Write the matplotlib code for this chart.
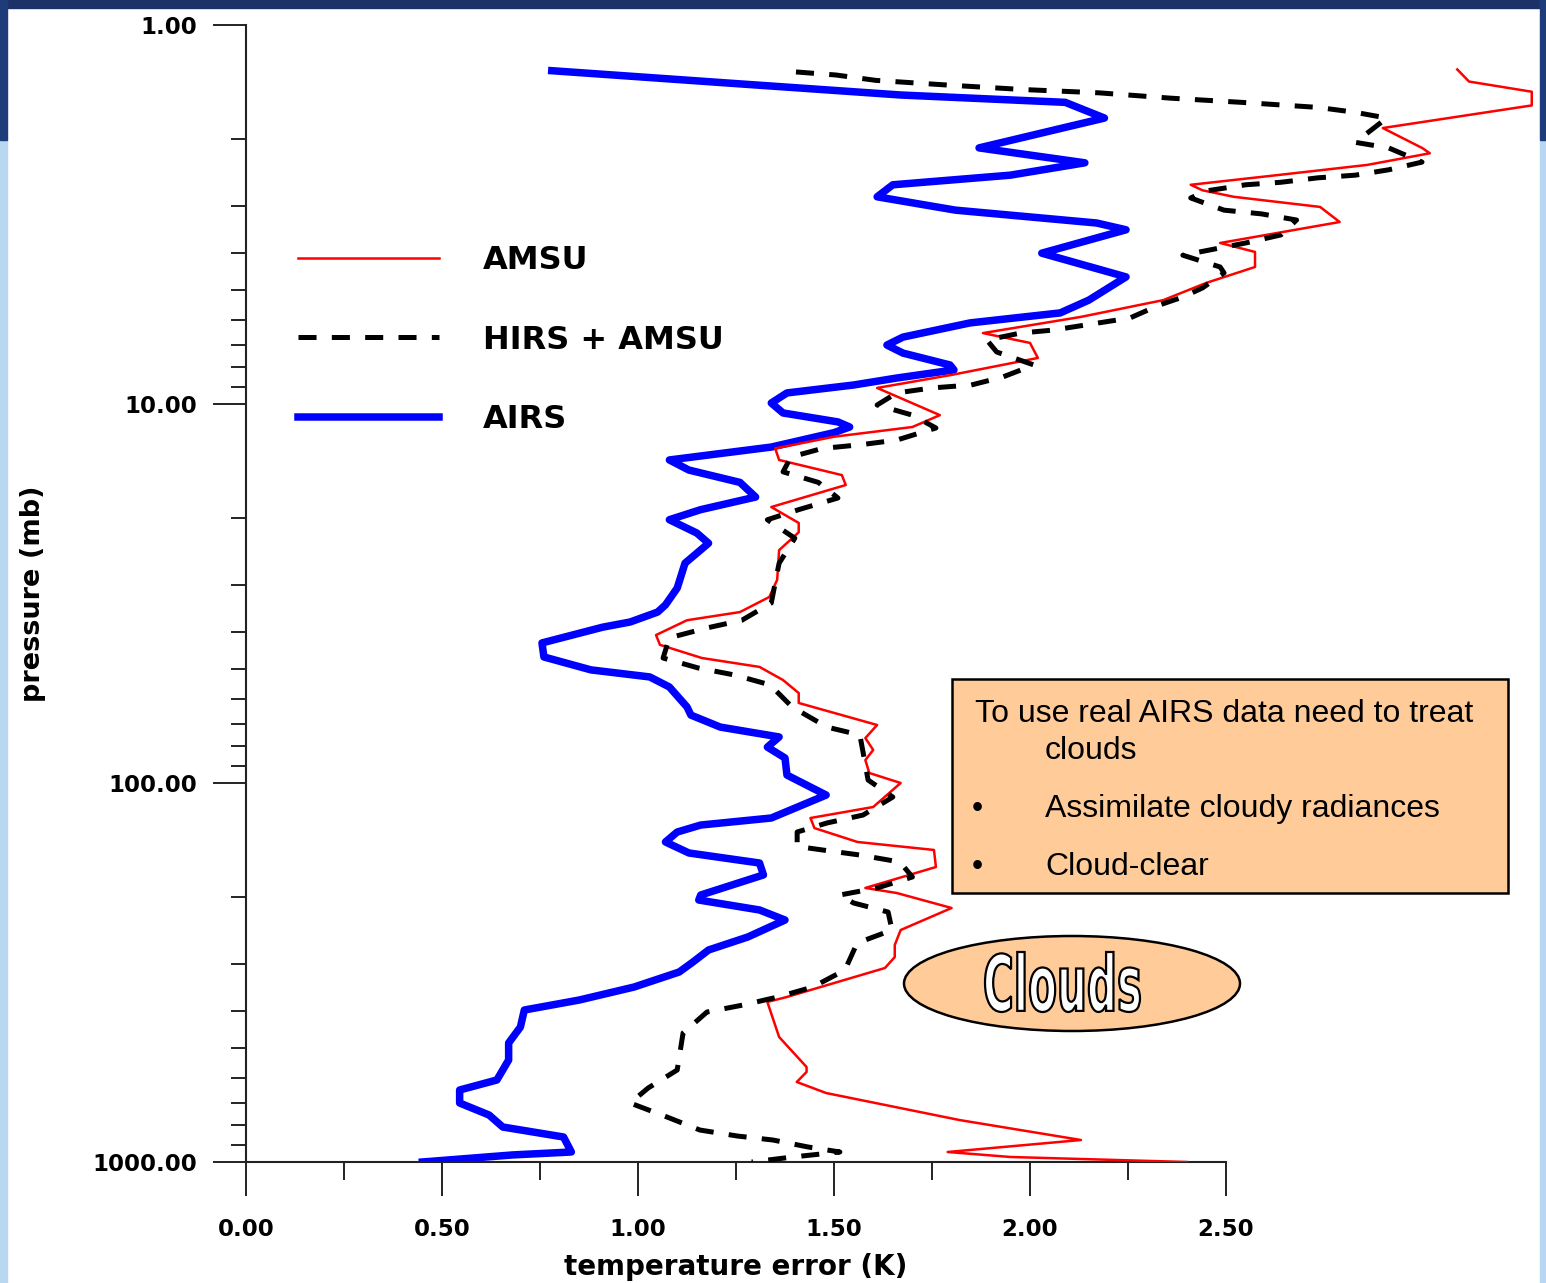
import numpy as np
import matplotlib
matplotlib.use("Agg")
import matplotlib.pyplot as plt
from matplotlib.patches import Rectangle, Ellipse, PathPatch
from matplotlib.textpath import TextPath
from matplotlib.font_manager import FontProperties
from matplotlib.transforms import Affine2D
from matplotlib.ticker import FixedLocator, FormatStrFormatter, LogLocator, NullFormatter

# ===============================
# Data (temperature error in K vs pressure in mb)
# ===============================
airs_err = [0.78, 1.26, 1.67, 2.09, 2.19, 1.87, 2.14, 1.95, 1.65, 1.61, 1.81, 2.17, 2.245,
            2.03, 2.245, 2.15, 2.077, 1.847, 1.676, 1.635, 1.676, 1.796, 1.806, 1.66, 1.55,
            1.38, 1.34, 1.37, 1.51, 1.54, 1.50, 1.34, 1.08, 1.13, 1.26, 1.30, 1.16, 1.08,
            1.15, 1.18, 1.12, 1.10, 1.07, 1.05, 0.98, 0.91, 0.755, 0.76, 0.88, 1.03, 1.08,
            1.125, 1.135, 1.21, 1.36, 1.33, 1.375, 1.38, 1.48, 1.34, 1.16, 1.10, 1.07, 1.13,
            1.31, 1.32, 1.16, 1.155, 1.31, 1.375, 1.28, 1.18, 1.14, 1.105, 0.99, 0.85, 0.71,
            0.70, 0.67, 0.67, 0.64, 0.545, 0.545, 0.62, 0.655, 0.81, 0.83, 0.68, 0.45]
airs_p = [1.32, 1.43, 1.53, 1.60, 1.76, 2.11, 2.31, 2.49, 2.64, 2.84, 3.08, 3.33, 3.47,
          4.0, 4.62, 5.32, 5.75, 6.11, 6.66, 6.99, 7.34, 7.89, 8.13, 8.54, 8.91,
          9.35, 9.94, 10.56, 11.15, 11.5, 11.9, 12.99, 14.05, 14.94, 16.1, 17.6, 19.0, 20.2,
          21.9, 23.3, 26.3, 30.6, 33.9, 35.4, 37.6, 38.8, 42.7, 46.5, 50.3, 52.5, 55.8,
          63.0, 66.2, 71.2, 75.6, 80.4, 85.9, 95.3, 107.6, 123.7, 129.1, 134.7, 143.1, 153.0,
          162.6, 174.8, 197.5, 203.6, 216.3, 229.9, 254.9, 275.8, 296.8, 315.3, 345.4, 373.8, 397.2,
          440.5, 485.3, 538.1, 607.6, 645.7, 698.8, 751.6, 808.5, 859.1, 941, 958, 1000]

amsu_err = [3.09, 3.12, 3.28, 3.28, 2.90, 3.00, 3.02, 2.86, 2.63, 2.41, 2.44, 2.52, 2.74,
            2.79, 2.485, 2.574, 2.574, 2.45, 2.34, 2.13, 1.88, 2.00, 2.02, 1.80, 1.61, 1.77,
            1.70, 1.50, 1.35, 1.36, 1.52, 1.53, 1.34, 1.41, 1.41, 1.36, 1.355, 1.335, 1.26,
            1.125, 1.046, 1.056, 1.163, 1.31, 1.37, 1.41, 1.41, 1.61, 1.58, 1.60, 1.58, 1.59,
            1.67, 1.60, 1.44, 1.45, 1.56, 1.755, 1.76, 1.58, 1.66, 1.80, 1.67, 1.655, 1.655,
            1.63, 1.38, 1.33, 1.36, 1.43, 1.43, 1.405, 1.48, 1.82, 2.13, 1.79, 1.95, 2.40]
amsu_p = [1.31, 1.41, 1.50, 1.63, 1.87, 2.11, 2.18, 2.34, 2.49, 2.64, 2.73, 2.84, 3.02,
          3.31, 3.76, 3.97, 4.35, 4.79, 5.32, 5.89, 6.50, 6.90, 7.56, 8.38, 9.07, 10.7,
          11.5, 12.2, 13.1, 14.05, 15.4, 16.36, 18.7, 20.6, 21.8, 24.3, 29.1, 32.3, 35.4,
          37.2, 40.7, 43.2, 46.8, 49.4, 53.5, 57.9, 61.5, 70.3, 76.1, 81.8, 87.0, 94.1,
          100, 115.7, 123.7, 131.5, 143.1, 150.2, 166.6, 189.2, 195.1, 213.7, 244.3, 267.6, 287.9,
          307.7, 366.9, 378.2, 468, 561.5, 578.8, 615, 657.7, 774.9, 874.9, 941, 970, 1000]

hirs_err = [1.403, 1.505, 1.607, 1.788, 1.982, 2.176, 2.36, 2.54, 2.735, 2.83, 2.91, 2.83,
            2.915, 3.00, 2.915, 2.83, 2.735, 2.64, 2.55, 2.45, 2.41, 2.495, 2.59, 2.68, 2.64,
            2.55, 2.46, 2.39, 2.485, 2.495, 2.44, 2.39, 2.33, 2.255, 2.06, 1.975, 1.89, 1.915,
            2.01, 1.93, 1.85, 1.75, 1.66, 1.61, 1.70, 1.76, 1.66, 1.57, 1.47, 1.39, 1.37, 1.46,
            1.51, 1.41, 1.33, 1.40, 1.36, 1.355, 1.34, 1.265, 1.175, 1.08, 1.064, 1.153, 1.247,
            1.337, 1.393, 1.482, 1.566, 1.574, 1.587, 1.65, 1.574, 1.482, 1.406, 1.406, 1.47,
            1.566, 1.668, 1.70, 1.61, 1.515, 1.55, 1.638, 1.648, 1.559, 1.528, 1.446, 1.357,
            1.268, 1.176, 1.115, 1.10, 1.026, 0.98, 1.074, 1.158, 1.253, 1.344, 1.434, 1.515,
            1.395, 1.29]
hirs_p = [1.33, 1.355, 1.40, 1.44, 1.48, 1.51, 1.56, 1.60, 1.65, 1.70, 1.76, 2.04,
          2.11, 2.30, 2.41, 2.49, 2.53, 2.60, 2.64, 2.74, 2.86, 3.08, 3.15, 3.27, 3.58,
          3.76, 3.92, 4.05, 4.35, 4.51, 4.94, 5.22, 5.48, 5.93, 6.38, 6.50, 6.78, 7.29,
          7.89, 8.49, 8.91, 9.07, 9.35, 10.06, 10.7, 11.57, 12.45, 12.8, 13.1, 13.8, 15.1, 16.1,
          17.7, 19.0, 20.2, 22.6, 26.3, 27.9, 33.5, 37.2, 39.0, 41.4, 46.8, 49.7, 51.9,
          55.1, 63.0, 71.2, 74.7, 82.8, 98.2, 108.9, 121.5, 127.5, 134.7, 147.0, 150.2,
          154.9, 161.6, 177.0, 189.2, 197.5, 207.3, 219.0, 244.3, 264.4, 311.4, 345.4, 366.9,
          385.3, 402.0, 456.6, 571.8, 637.8, 698.8, 760.9, 823.5, 853.9, 874.9, 912.9, 941,
          970, 1000]

x_ticks = [0.0, 0.5, 1.0, 1.5, 2.0, 2.5]
x_minor = [0.25, 0.75, 1.25, 1.75, 2.25]
y_ticks = [1, 10, 100, 1000]

legend_labels = ["AMSU", "HIRS + AMSU", "AIRS"]
box_lines = ["To use real AIRS data need to treat", "clouds",
             "Assimilate cloudy radiances", "Cloud-clear"]

# ===============================
# Figure
# ===============================
W, H = 1546, 1283
plt.rcParams['lines.scale_dashes'] = False
fig = plt.figure(figsize=(W / 100, H / 100), dpi=100, facecolor="white")

# background strips (slide picture around the chart)
fig.patches.append(Rectangle((0, 1 - 8 / H), 1, 8 / H, transform=fig.transFigure,
                             color="#1d3169", zorder=0))
for x0 in (0, 1540 / W):
    fig.patches.append(Rectangle((x0, 0), 7 / W, 1 - 140 / H, transform=fig.transFigure,
                                 color="#b9d6f2", zorder=0))
    fig.patches.append(Rectangle((x0, 1 - 140 / H), 7 / W, 140 / H, transform=fig.transFigure,
                                 color="#1f3c7a", zorder=0))

ax = fig.add_axes([246 / W, 121 / H, 1293.6 / W, 1137 / H])
ax.set_facecolor("none")

ax.plot(airs_err, airs_p, color="#0000ff", lw=5.4, label=legend_labels[2], zorder=2)
ax.plot(amsu_err, amsu_p, color="#ff0000", lw=1.8, label=legend_labels[0], zorder=3)
ax.plot(hirs_err, hirs_p, color="black", lw=3.6, dashes=(13, 11), label=legend_labels[1], zorder=4)

ax.set_yscale("log")
ax.set_ylim(1000, 1)
ax.set_xlim(0, 3.30)

ax.spines["top"].set_visible(False)
ax.spines["right"].set_visible(False)
ax.spines["bottom"].set_bounds(0, 2.5)
for s in ("left", "bottom"):
    ax.spines[s].set_linewidth(1.5)
    ax.spines[s].set_color("#222222")

ax.xaxis.set_major_locator(FixedLocator(x_ticks))
ax.xaxis.set_minor_locator(FixedLocator(x_minor))
ax.xaxis.set_major_formatter(FormatStrFormatter("%.2f"))
ax.yaxis.set_major_locator(FixedLocator(y_ticks))
ax.yaxis.set_minor_locator(LogLocator(base=10, subs=np.arange(2, 10)))
ax.yaxis.set_major_formatter(FormatStrFormatter("%.2f"))
ax.yaxis.set_minor_formatter(NullFormatter())

ax.tick_params(axis="x", which="major", direction="out", length=24.5, width=1.4,
               pad=16, labelsize=16.5, color="#222222")
ax.tick_params(axis="x", which="minor", direction="out", length=13, width=1.4, color="#222222")
ax.tick_params(axis="y", which="major", direction="out", length=23.5, width=1.4,
               pad=12, labelsize=16.5, color="#222222")
ax.tick_params(axis="y", which="minor", direction="out", length=11, width=1.4, color="#222222")
for lab in ax.get_xticklabels() + ax.get_yticklabels():
    lab.set_fontweight("bold")

fig.text(736 / W, 1 - 1267 / H, "temperature error (K)", ha="center", va="center",
         fontsize=20, fontweight="bold")
fig.text(33 / W, 1 - 594 / H, "pressure (mb)", ha="center", va="center", rotation=90,
         fontsize=19.5, fontweight="bold")

# legend
h, l = ax.get_legend_handles_labels()
order = [1, 2, 0]
ax.legend([h[i] for i in order], [l[i] for i in order], loc="upper left",
          bbox_to_anchor=(52 / 1293.6, (1162 - 245) / 1137), frameon=False,
          borderpad=0, borderaxespad=0, handlelength=4.4, handletextpad=1.4,
          labelspacing=1.52, prop=dict(size=23, weight="bold"))

# text box
fig.patches.append(Rectangle((952 / W, 1 - 893 / H), 556 / W, 214 / H, transform=fig.transFigure,
                             facecolor="#ffcc99", edgecolor="black", lw=1.8, zorder=5))
tprops = dict(fontsize=23, family="Liberation Sans", va="baseline", zorder=6)
fig.text(975 / W, 1 - 722 / H, box_lines[0], **tprops)
fig.text(1045 / W, 1 - 759 / H, box_lines[1], **tprops)
fig.text(972 / W, 1 - 817 / H, "\u2022", **tprops)
fig.text(1045 / W, 1 - 817 / H, box_lines[2], **tprops)
fig.text(972 / W, 1 - 875 / H, "\u2022", **tprops)
fig.text(1045 / W, 1 - 875 / H, box_lines[3], **tprops)

# "Clouds" ellipse
fig.patches.append(Ellipse((1072 / W, 1 - 983.5 / H), 336 / W, 95 / H, transform=fig.transFigure,
                           facecolor="#ffcc99", edgecolor="black", lw=1.8, zorder=5))
tp = TextPath((0, 0), "Clouds", size=100, prop=FontProperties(family="DejaVu Sans", weight="bold"))
bb = tp.get_extents()
trans = (Affine2D().translate(-bb.x0, -bb.y0).scale(155 / bb.width, 60 / bb.height)
         .translate(985, H - 1012).scale(1 / W, 1 / H) + fig.transFigure)
fig.patches.append(PathPatch(tp, transform=trans, facecolor="white", edgecolor="black",
                             lw=1.6, zorder=6))

fig.savefig("out.png", dpi=100, facecolor="white")
